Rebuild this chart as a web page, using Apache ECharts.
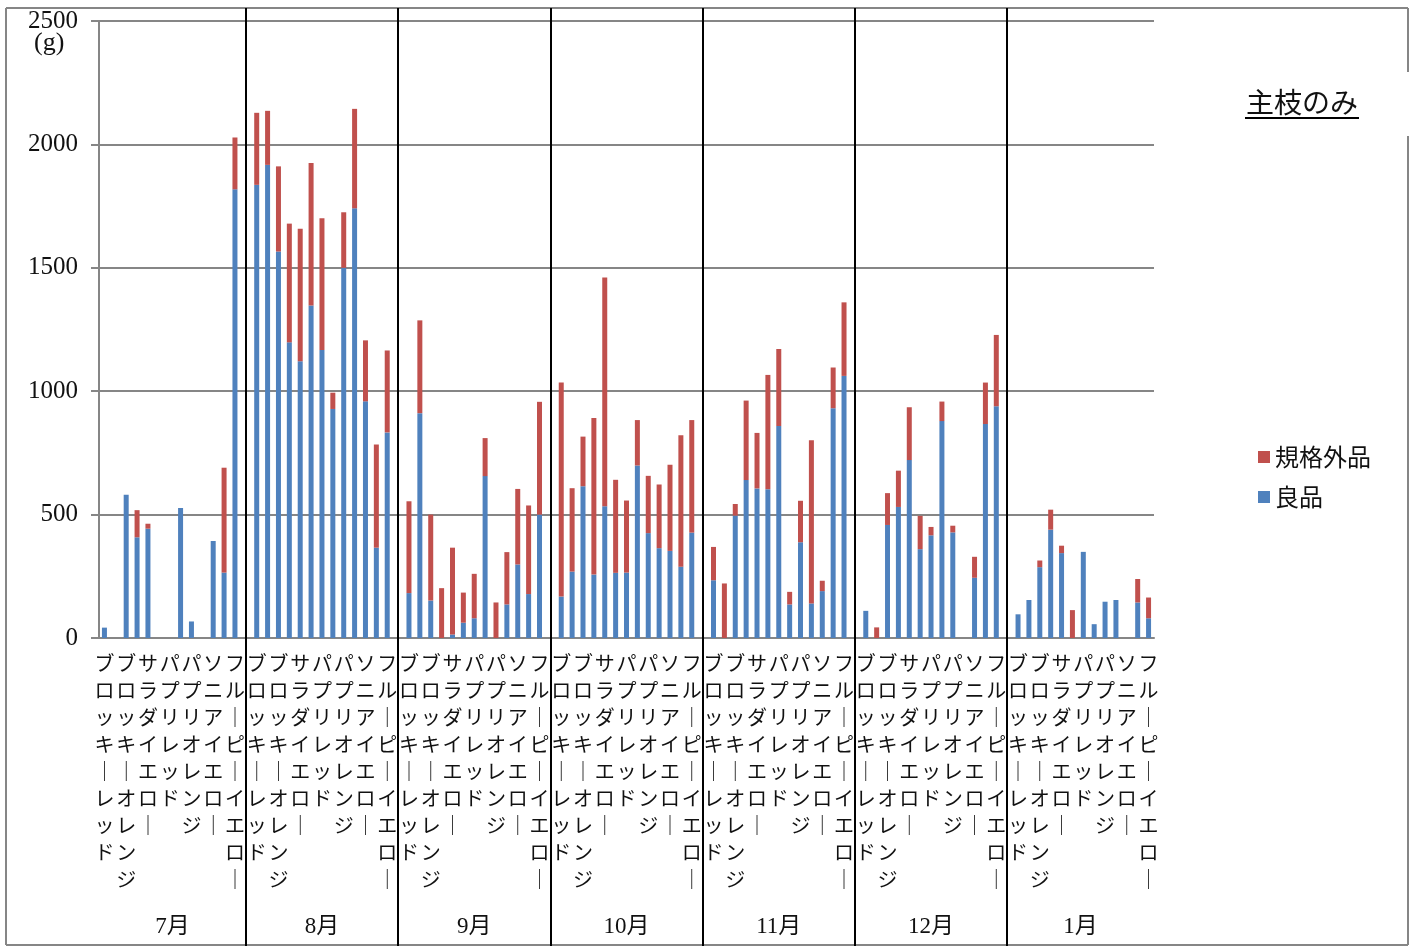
<!DOCTYPE html>
<html>
<head>
<meta charset="utf-8">
<script src="https://cdn.jsdelivr.net/npm/echarts@6/dist/echarts.min.js"></script>
<style>
  html, body { margin: 0; padding: 0; background: #fff; }
  #main { width: 1416px; height: 946px; }
</style>
</head>
<body>
<div id="main"></div>
<script>
var varieties = ['ブロッキーレッド', 'ブロッキーイエロー', 'ブロッキーオレンジ', 'サラダレッド', 'サラダイエロー',
  'サラダオレンジ', 'パプリレッド', 'パプリイエロー', 'パプリオレンジ', 'ソニアレッド', 'ソニアイエロー',
  'フルーピーレッド', 'フルーピーイエロー'];
var months = ['7月', '8月', '9月', '10月', '11月', '12月', '1月'];

// 良品 (g) per month, same order as varieties
var good = [
  [42, 0, 580, 408, 443, 0, 0, 527, 67, 0, 393, 265, 1818],
  [1836, 1917, 1566, 1198, 1121, 1347, 1167, 928, 1500, 1741, 959, 366, 833],
  [182, 911, 152, 0, 14, 62, 80, 656, 0, 136, 298, 178, 500],
  [168, 269, 615, 257, 534, 264, 265, 699, 425, 364, 353, 289, 427],
  [234, 0, 496, 640, 606, 603, 859, 136, 388, 140, 190, 931, 1062],
  [110, 0, 458, 531, 721, 360, 416, 879, 428, 0, 244, 867, 939],
  [96, 154, 287, 439, 344, 0, 349, 56, 147, 154, 0, 144, 80]
];
// 規格外品 (g)
var offGrade = [
  [0, 0, 0, 110, 20, 0, 0, 0, 0, 0, 0, 425, 210],
  [292, 219, 345, 481, 537, 578, 534, 66, 225, 403, 247, 418, 332],
  [372, 376, 348, 202, 352, 122, 180, 154, 144, 212, 306, 359, 457],
  [867, 338, 201, 634, 927, 377, 292, 184, 232, 258, 349, 533, 456],
  [135, 221, 47, 322, 225, 463, 312, 51, 168, 661, 42, 165, 298],
  [0, 43, 129, 147, 214, 135, 34, 79, 27, 0, 85, 168, 289],
  [0, 0, 27, 81, 30, 113, 0, 0, 0, 0, 0, 95, 84]
];

var yTicks = [0, 500, 1000, 1500, 2000, 2500];

// one category per variety and month, a blank slot between months
var categories = [];
var goodData = [];
var offData = [];
var dividers = [];
months.forEach(function (m, i) {
  varieties.forEach(function (v, j) {
    categories.push(v);
    goodData.push(good[i][j]);
    offData.push(offGrade[i][j]);
  });
  if (i < months.length - 1) {
    dividers.push(categories.length);
    categories.push('');
    goodData.push('-');
    offData.push('-');
  }
});
var bounds = [-0.5].concat(dividers, [categories.length - 0.5]);
var monthCenters = [];
for (var k = 0; k < months.length; k++) {
  monthCenters.push((bounds[k] + bounds[k + 1]) / 2);
}

var serif = "'Liberation Serif', 'Noto Sans CJK JP', serif";
var jp = "'Noto Sans CJK JP', sans-serif";
var gray = '#868686';

var myChart = echarts.init(document.getElementById('main'));
var option = {
  animation: false,
  color: ['#4f81bd', '#c0504d'],
  grid: { left: 99, right: 262, top: 21, bottom: 308 },
  legend: {
    orient: 'vertical',
    left: 1253,
    top: 439,
    data: ['規格外品', '良品'],
    icon: 'rect',
    itemWidth: 12,
    itemHeight: 12,
    itemGap: 14,
    textStyle: { fontFamily: jp, fontSize: 24, lineHeight: 26, color: '#111' }
  },
  xAxis: [
    {
      type: 'category',
      data: categories,
      axisLine: { show: true, lineStyle: { color: gray, width: 2 } },
      axisTick: { show: false },
      axisLabel: {
        interval: 1,
        margin: 12,
        fontFamily: jp,
        fontSize: 20,
        lineHeight: 27,
        color: '#111',
        formatter: function (v) {
          return v.split('').map(function (c) { return c === 'ー' ? '｜' : c; }).join('\n');
        }
      }
    },
    {
      // month dividers inside the plot
      type: 'value',
      position: 'bottom',
      min: -0.5,
      max: categories.length - 0.5,
      axisLine: { show: false },
      splitLine: { show: false },
      axisLabel: { show: false },
      axisTick: {
        show: true,
        inside: true,
        length: 630,
        customValues: dividers,
        lineStyle: { color: '#000', width: 2 }
      }
    },
    {
      // month dividers below the axis and month names
      type: 'value',
      position: 'bottom',
      min: -0.5,
      max: categories.length - 0.5,
      axisLine: { show: false },
      splitLine: { show: false },
      axisTick: {
        show: true,
        length: 310,
        customValues: dividers,
        lineStyle: { color: '#000', width: 2 }
      },
      axisLabel: {
        show: true,
        customValues: monthCenters,
        margin: 277,
        fontFamily: serif,
        fontSize: 23,
        color: '#111',
        formatter: function (v) {
          for (var i = 0; i < monthCenters.length; i++) {
            if (Math.abs(monthCenters[i] - v) < 1e-6) return months[i];
          }
          return '';
        }
      }
    }
  ],
  yAxis: {
    type: 'value',
    min: yTicks[0],
    max: yTicks[yTicks.length - 1],
    interval: yTicks[1] - yTicks[0],
    axisLine: { show: true, onZero: false, lineStyle: { color: gray, width: 2 } },
    axisTick: { show: true, length: 8, lineStyle: { color: gray, width: 2 } },
    splitLine: { lineStyle: { color: gray, width: 2 } },
    axisLabel: {
      margin: 21,
      fontFamily: serif,
      fontSize: 25,
      color: '#111',
      formatter: function (v) { return String(v); }
    }
  },
  series: [
    {
      name: '良品',
      type: 'bar',
      stack: 'total',
      barWidth: 5,
      data: goodData
    },
    {
      name: '規格外品',
      type: 'bar',
      stack: 'total',
      barWidth: 5,
      data: offData
    }
  ],
  graphic: [
    { type: 'line', shape: { x1: 6, y1: 8, x2: 1408, y2: 8 }, style: { stroke: gray, lineWidth: 2 } },
    { type: 'line', shape: { x1: 6, y1: 8, x2: 6, y2: 945 }, style: { stroke: gray, lineWidth: 2 } },
    { type: 'line', shape: { x1: 6, y1: 945, x2: 1408, y2: 945 }, style: { stroke: gray, lineWidth: 2 } },
    { type: 'line', shape: { x1: 1408, y1: 8, x2: 1408, y2: 72 }, style: { stroke: gray, lineWidth: 2 } },
    { type: 'line', shape: { x1: 1408, y1: 136, x2: 1408, y2: 945 }, style: { stroke: gray, lineWidth: 2 } },
    { type: 'text', left: 34, top: 30, style: { text: '(g)', font: '26px ' + serif, fill: '#111' } },
    { type: 'text', left: 1246, top: 88, style: { text: '主枝のみ', font: '28px ' + jp, fill: '#111' } },
    { type: 'line', shape: { x1: 1245, y1: 118, x2: 1359, y2: 118 }, style: { stroke: '#000', lineWidth: 2 } }
  ]
};
myChart.setOption(option);
</script>
</body>
</html>
